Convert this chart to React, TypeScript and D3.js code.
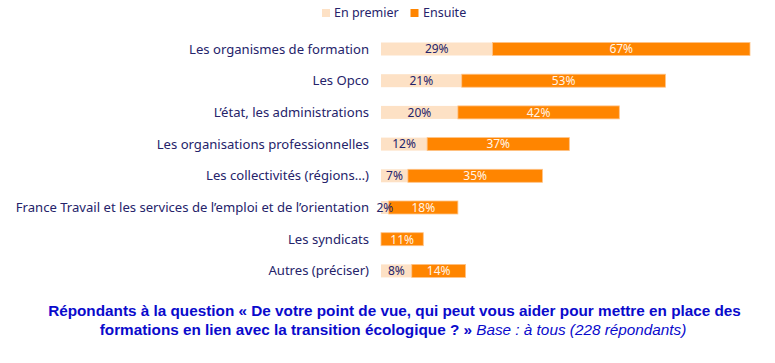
import * as d3 from "d3";

const categories = [
  "Les organismes de formation",
  "Les Opco",
  "L’état, les administrations",
  "Les organisations professionnelles",
  "Les collectivités (régions…)",
  "France Travail et les services de l’emploi et de l’orientation",
  "Les syndicats",
  "Autres (préciser)",
];
const enPremier = [29, 21, 20, 12, 7, 2, 0, 8];
const ensuite = [67, 53, 42, 37, 35, 18, 11, 14];
const seriesNames = ["En premier", "Ensuite"];

const W = 775;
const H = 363;
const LIGHT = "#fde1c5";
const ORANGE = "#ff8500";
const NAVY = "#25236a";
const CAPTION = "#0a0acc";
const FONT = "'Noto Sans', sans-serif";

export default function App() {
  const totals = categories.map((_, i) => enPremier[i] + ensuite[i]);
  const x = d3.scaleLinear().domain([0, d3.max(totals) as number]).range([381, 750]);
  const y = d3
    .scaleBand<string>()
    .domain(categories)
    .range([23.8, 296.1])
    .paddingInner(0.59)
    .paddingOuter(0.59);
  const bw = y.bandwidth();

  return (
    <div style={{ position: "absolute", left: 0, top: 0, background: "#fff" }}>
      <svg width={W} height={H} style={{ display: "block" }}>
        <rect width={W} height={H} fill="#fff" />

        {/* legend */}
        <g fontFamily={FONT} fontSize={12.5} fill={NAVY}>
          <rect x={322} y={9} width={8} height={8} fill={LIGHT} />
          <text x={334} y={17}>{seriesNames[0]}</text>
          <rect x={410.5} y={9} width={8} height={8} fill={ORANGE} />
          <text x={423} y={17}>{seriesNames[1]}</text>
        </g>

        {categories.map((c, i) => {
          const y0 = y(c) as number;
          const cy = y0 + bw / 2;
          const x0 = x(0);
          const x1 = x(enPremier[i]);
          const x2 = x(enPremier[i] + ensuite[i]);
          return (
            <g key={c} fontFamily={FONT}>
              <text
                x={369}
                y={cy}
                dy="0.35em"
                textAnchor="end"
                fontSize={13.1}
                fill={NAVY}
              >
                {c}
              </text>
              {enPremier[i] > 0 && (
                <rect x={x0} y={y0} width={x1 - x0} height={bw} fill={LIGHT} />
              )}
              <rect
                x={x1}
                y={y0}
                width={x2 - x1}
                height={bw}
                fill={ORANGE}
                stroke="#ffc285"
                strokeWidth={0.8}
              />
              {enPremier[i] > 0 && (
                <text
                  x={(x0 + x1) / 2}
                  y={cy}
                  dy="0.36em"
                  textAnchor="middle"
                  fontSize={12}
                  fill={NAVY}
                >
                  {enPremier[i]}%
                </text>
              )}
              <text
                x={(x1 + x2) / 2}
                y={cy}
                dy="0.36em"
                textAnchor="middle"
                fontSize={12}
                fill="#fff4e8"
              >
                {ensuite[i]}%
              </text>
            </g>
          );
        })}

        {/* caption */}
        <g fontFamily="'Liberation Sans', Arial, sans-serif" fontSize={15.3} fill={CAPTION} textAnchor="middle">
          <text x={394.5} y={316} fontWeight="bold">
            Répondants à la question « De votre point de vue, qui peut vous aider pour mettre en place des
          </text>
          <text x={393} y={334.5}>
            <tspan fontWeight="bold">formations en lien avec la transition écologique ? » </tspan>
            <tspan fontStyle="italic">Base : à tous (228 répondants)</tspan>
          </text>
        </g>
      </svg>
    </div>
  );
}
